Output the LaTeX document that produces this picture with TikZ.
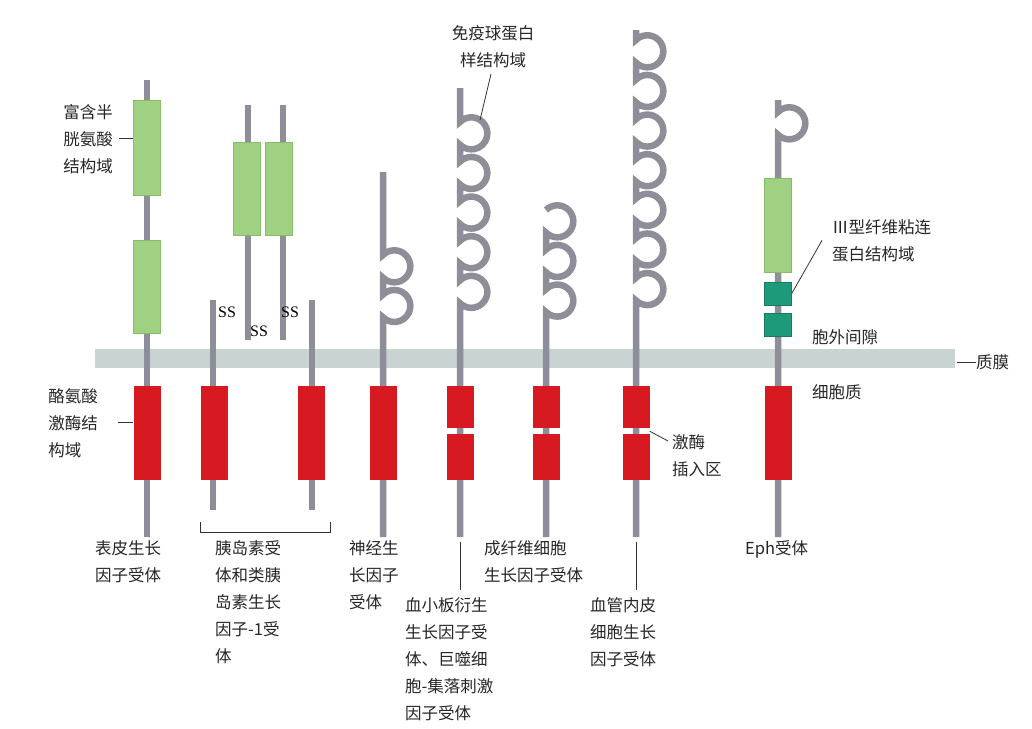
\documentclass[tikz,border=0pt]{standalone}
\usepackage{fontspec}
\setmainfont{Liberation Serif}
\newfontfamily\cjk{Noto Sans CJK SC}
\usetikzlibrary{positioning}
\definecolor{stemgray}{HTML}{8E8E98}
\definecolor{cysgreen}{HTML}{A0D183}
\definecolor{cysedge}{HTML}{86BC6A}
\definecolor{tkred}{HTML}{D71A22}
\definecolor{fnteal}{HTML}{1C9A79}
\definecolor{memgray}{HTML}{C9D3D1}
\tikzset{
  stem/.style={draw=stemgray,line width=6.5pt},
  thin/.style={draw=black!80,line width=0.8pt},
  cys/.style={rectangle,draw=cysedge,fill=cysgreen,line width=0.8pt,minimum width=27pt,inner sep=0pt},
  tk/.style={rectangle,fill=tkred,minimum width=27pt,inner sep=0pt},
  fn/.style={rectangle,fill=fnteal,draw=fnteal!80!black,line width=0.5pt,minimum width=27pt,minimum height=23pt,inner sep=0pt},
  lab/.style={font=\cjk\fontsize{16.5}{27}\selectfont,align=left,inner sep=0pt,text=black!85},
  ss/.style={font=\fontsize{16}{18}\selectfont,inner sep=0pt}
}
\newcommand\igstem[5]{% x, top, loop start, number of loops, bottom
  \draw[stem] (#1,-#2) -- (#1,-#3)
    \foreach \i in {1,...,#4} { arc[start angle=135,end angle=-135,radius=16] -- ++(0,-17) }
    -- (#1,-#5);}
\begin{document}
\begin{tikzpicture}[x=1pt,y=1pt]
  \useasboundingbox (0,0) rectangle (1032,-728);
  % plasma membrane
  \fill[memgray] (95,-349) rectangle (955,-368);
  % epidermal growth factor receptor
  \draw[stem] (147,-80) -- (147,-537);
  \node[cys,minimum height=95pt] (egfrA) at (147,-147.5) {};
  \node[cys,minimum height=93pt] (egfrB) at (147,-286.5) {};
  \node[tk,minimum height=94pt] (egfrK) at (147,-433) {};
  % insulin receptor
  \draw[stem] (248,-105) -- (248,-340);
  \draw[stem] (283,-105) -- (283,-340);
  \draw[stem] (213,-300) -- (213,-510);
  \draw[stem] (312,-300) -- (312,-510);
  \node[cys,minimum height=93pt] (insA) at (247,-188.5) {};
  \node[cys,minimum height=93pt] (insB) at (279,-188.5) {};
  \node[tk,minimum height=94pt] (insK1) at (214,-433) {};
  \node[tk,minimum height=94pt] (insK2) at (311,-433) {};
  \node[ss,anchor=west] (ss1) at (218,-312) {SS};
  \node[ss,anchor=west] (ss2) at (250,-331) {SS};
  \node[ss,anchor=west] (ss3) at (281,-312) {SS};
  \coordinate (brL) at (200,-522);
  \coordinate (brR) at (330,-522);
  \draw[thin] (brL) -- ++(0,-10) -| (brR);
  % nerve growth factor receptor
  \igstem{383}{172}{255}{2}{537}
  \node[tk,minimum height=94pt] (ngfK) at (383,-433) {};
  % platelet derived growth factor receptor
  \igstem{460}{88}{122}{5}{537}
  \node[tk,minimum height=42pt] (pdgfK1) at (460,-407) {};
  \node[tk,minimum height=46pt] (pdgfK2) at (460,-457) {};
  % fibroblast growth factor receptor
  \igstem{546}{210}{210}{3}{537}
  \node[tk,minimum height=42pt] (fgfK1) at (546,-407) {};
  \node[tk,minimum height=46pt] (fgfK2) at (546,-457) {};
  % vascular endothelial growth factor receptor
  \igstem{636}{30}{40}{7}{537}
  \node[tk,minimum height=42pt] (vegfK1) at (636,-407) {};
  \node[tk,minimum height=46pt] (vegfK2) at (636,-457) {};
  % Eph receptor
  \igstem{778}{100}{112}{1}{537}
  \node[cys,minimum height=94pt] (ephA) at (778,-225) {};
  \node[fn] (ephF1) at (778,-293.5) {};
  \node[fn] (ephF2) at (778,-324.5) {};
  \node[tk,minimum height=94pt] (ephK) at (778,-433) {};
  % side labels
  \node[lab,anchor=north east] (cysL) at (113,-104) {富含半\\胱氨酸\\结构域};
  \draw[thin] (cysL.east) ++(6,0) -- (egfrA.west |- cysL.east);
  \node[lab,anchor=north east] (tkL) at (98,-388) {酪氨酸\\激酶结\\构域};
  \draw[thin] (tkL.east) ++(20,0) -- (egfrK.west |- tkL.east);
  \node[lab,align=center,anchor=south] (igL) at (493,-68) {免疫球蛋白\\样结构域};
  \coordinate (igP) at (480,-120);
  \draw[thin] (igL.south) ++(-2,-6) -- (igP);
  \node[lab,anchor=north west] (fnL) at (832,-219) {Ⅲ型纤维粘连\\蛋白结构域};
  \draw[thin] (fnL.west) ++(-10,0) -- (ephF1.east);
  \node[lab,anchor=west] (exoL) at (812,-337) {胞外间隙};
  \node[lab,anchor=west] (cytoL) at (812,-392) {细胞质};
  \node[lab,anchor=west] (memL) at (976,-362) {质膜};
  \draw[thin] (957,-362) -- (memL.west);
  \node[lab,anchor=north west] (kiL) at (672,-434) {激酶\\插入区};
  \draw[thin] (vegfK1.south east) ++(0,-3) -- (668,-441);
  % receptor names
  \node[lab,anchor=north west] (egfrN) at (95,-540) {表皮生长\\因子受体};
  \node[lab,anchor=north west] (insN) at (215,-540) {胰岛素受\\体和类胰\\岛素生长\\因子-1受\\体};
  \node[lab,anchor=north west] (ngfN) at (349,-540) {神经生\\长因子\\受体};
  \node[lab,anchor=north west] (pdgfN) at (405,-597) {血小板衍生\\生长因子受\\体、巨噬细\\胞-集落刺激\\因子受体};
  \node[lab,anchor=north west] (fgfN) at (484,-540) {成纤维细胞\\生长因子受体};
  \node[lab,anchor=north west] (vegfN) at (590,-597) {血管内皮\\细胞生长\\因子受体};
  \node[lab,anchor=north west] (ephN) at (745,-540) {Eph受体};
  \coordinate (pdgfE) at (460,-542);
  \coordinate (vegfE) at (636,-542);
  \draw[thin] (pdgfE) -- (460,-590);
  \draw[thin] (vegfE) -- (636,-590);
\end{tikzpicture}
\end{document}
